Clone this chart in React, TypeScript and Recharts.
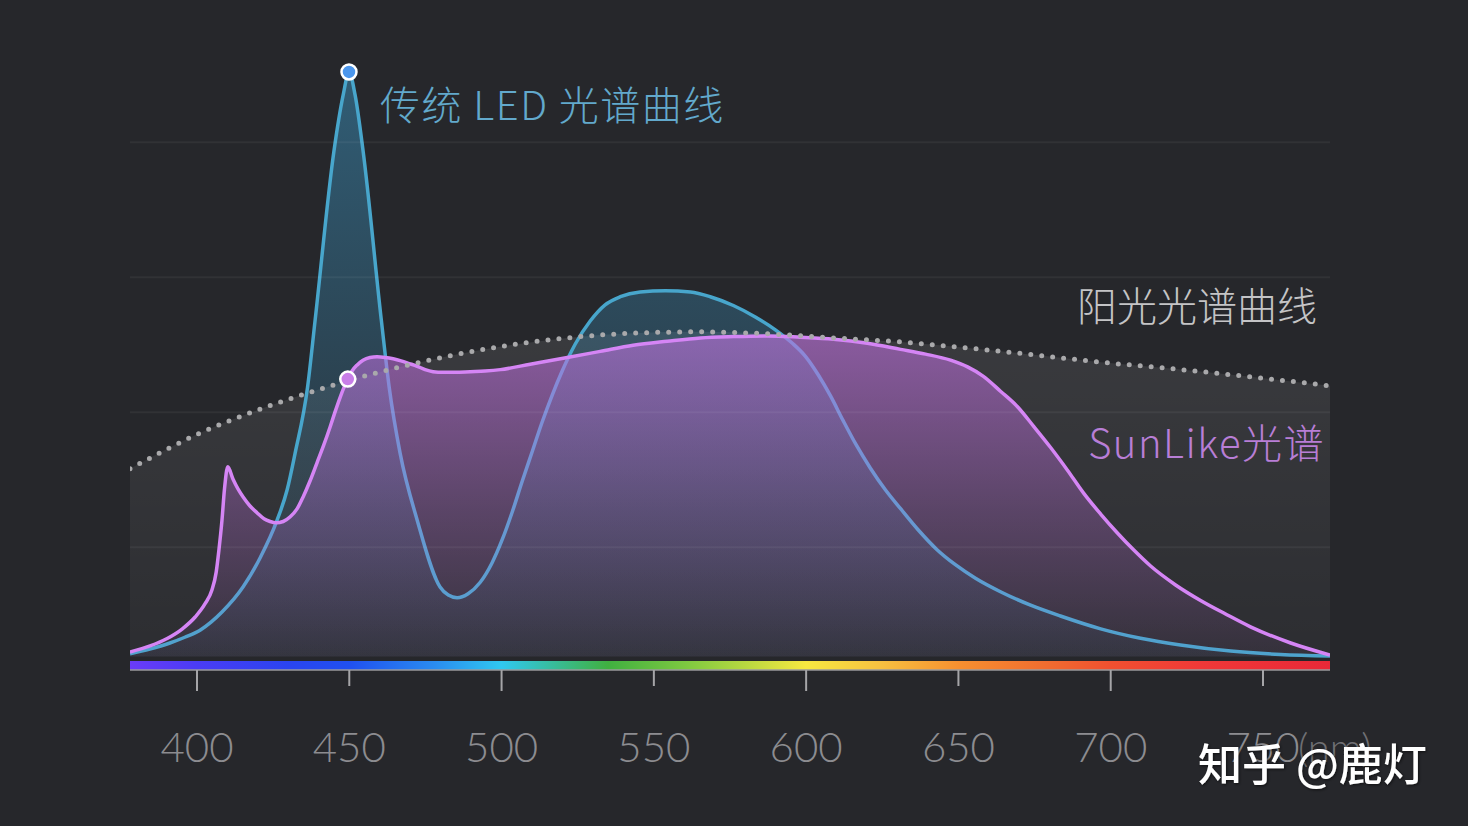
import { Area, ComposedChart, Line, ReferenceArea, ReferenceDot, ReferenceLine, XAxis, YAxis } from "recharts"

// wavelength (nm) / relative power
const ledNm = [378.0, 384.5, 391.1, 396.0, 401.0, 404.6, 408.2, 415.1, 420.7, 426.3, 429.6, 432.2, 436.3, 438.8, 445.0, 448.0, 449.9, 451.9, 454.5, 460.5, 463.1, 466.7, 472.3, 479.8, 482.5, 485.4, 489.0, 493.0, 496.9, 500.2, 503.5, 506.8, 510.1, 513.3, 516.6, 519.9, 524.2, 529.1, 534.0, 539.0, 545.5, 553.8, 562.0, 568.5, 576.1, 583.3, 589.9, 595.5, 599.7, 604.0, 608.0, 612.2, 616.5, 621.1, 626.0, 631.0, 636.9, 642.8, 649.0, 655.6, 663.8, 673.7, 683.5, 696.7, 709.8, 722.9, 739.4, 755.8, 772.0]
const ledPower = [0.4, 1.1, 2.0, 2.85, 3.9, 5.1, 6.6, 10.3, 14.6, 20.2, 24.7, 30.1, 39.9, 49.9, 75.0, 83.2, 86.6, 83.2, 75.0, 49.9, 39.9, 30.1, 20.2, 10.3, 9.1, 8.7, 9.3, 11.0, 13.9, 17.3, 21.4, 26.0, 30.4, 34.7, 38.7, 42.3, 46.3, 49.7, 52.1, 53.3, 54.0, 54.2, 54.0, 53.3, 52.0, 50.3, 48.4, 46.4, 44.5, 41.7, 38.6, 34.9, 31.3, 27.9, 24.7, 21.9, 18.7, 15.9, 13.6, 11.6, 9.6, 7.6, 6.0, 4.1, 2.7, 1.7, 0.8, 0.3, 0.07]

const sunLikeNm = [378.0, 384.6, 390.2, 395.1, 399.4, 402.6, 404.9, 406.3, 407.2, 408.2, 409.0, 410.1, 411.8, 413.5, 415.2, 417.4, 419.7, 422.0, 424.0, 426.0, 428.3, 430.6, 432.9, 434.8, 437.1, 439.4, 441.6, 443.7, 445.3, 447.0, 448.3, 449.5, 450.9, 452.6, 454.5, 456.8, 459.1, 461.8, 464.4, 467.0, 469.7, 472.3, 474.9, 477.5, 480.8, 484.8, 489.7, 494.6, 499.6, 509.4, 521.6, 532.4, 543.2, 554.4, 565.3, 576.1, 587.3, 598.1, 609.0, 620.1, 631.0, 639.2, 647.4, 653.0, 658.2, 663.8, 669.4, 674.7, 680.2, 685.8, 691.1, 696.7, 702.2, 707.5, 713.1, 721.3, 729.5, 737.7, 745.9, 759.1, 772.0]
const sunLikePower = [0.67, 1.56, 2.67, 4.07, 5.85, 7.78, 9.85, 12.5, 15.8, 20.2, 24.7, 28.1, 26.3, 24.8, 23.6, 22.3, 21.3, 20.4, 20.0, 19.8, 20.0, 20.7, 21.9, 23.6, 26.0, 28.7, 31.3, 34.0, 36.2, 38.4, 39.9, 41.1, 42.3, 43.2, 43.9, 44.3, 44.4, 44.3, 44.1, 43.8, 43.4, 43.0, 42.5, 42.2, 42.1, 42.1, 42.2, 42.3, 42.5, 43.3, 44.3, 45.2, 46.1, 46.7, 47.2, 47.4, 47.5, 47.3, 47.0, 46.4, 45.5, 44.8, 43.9, 42.9, 41.5, 39.3, 37.0, 34.1, 31.0, 27.6, 24.2, 21.1, 18.3, 15.8, 13.4, 10.6, 8.3, 6.3, 4.4, 2.0, 0.22]

const sunNm = [378.0, 401.0, 423.0, 444.7, 466.7, 499.5, 521.6, 543.2, 565.3, 587.3, 609.0, 631.0, 653.0, 674.7, 696.7, 718.7, 740.4, 772.0]
const sunPower = [27.8, 33.1, 37.0, 40.2, 42.9, 45.9, 47.2, 47.9, 48.1, 47.8, 47.2, 46.6, 45.7, 44.7, 43.6, 42.7, 41.7, 40.1]

const xTicks = [400, 450, 500, 550, 600, 650, 700, 750]
const gridLevels = [16.2, 36.2, 56.2, 76.2]
const markerNm = 450

// colour of the visible spectrum strip under the curves
const spectrumStops = [
  { nm: 378, color: "#6a3cf8" },
  { nm: 400, color: "#4a3cf5" },
  { nm: 430, color: "#2a44f0" },
  { nm: 450, color: "#2050f0" },
  { nm: 478, color: "#2a8cf0" },
  { nm: 500, color: "#30c8f0" },
  { nm: 535, color: "#40b040" },
  { nm: 560, color: "#7cc840" },
  { nm: 580, color: "#b8d840" },
  { nm: 600, color: "#f8e840" },
  { nm: 625, color: "#f8c040" },
  { nm: 650, color: "#f89030" },
  { nm: 676, color: "#f07030" },
  { nm: 700, color: "#f05030" },
  { nm: 730, color: "#f03838" },
  { nm: 772, color: "#e82838" },
]

const X_MIN = 378
const X_MAX = 772

const toRows = (nm: number[], power: number[]) => nm.map((x, i) => ({ nm: x, power: power[i] }))
const ledData = toRows(ledNm, ledPower)
const sunLikeData = toRows(sunLikeNm, sunLikePower)
const sunData = toRows(sunNm, sunPower)

const ledPeak = ledData.reduce((a, b) => (b.power > a.power ? b : a))
const sunLikeMarker = sunLikeData.reduce((a, b) => (Math.abs(b.nm - markerNm) < Math.abs(a.nm - markerNm) ? b : a))

const BG = "#26272b"
const LED = "#48a6cc"
const SUNLIKE = "#d585f5"

function WaveTick(props: any) {
  const { x, y, payload, index } = props
  const long = index % 2 === 0
  return (
    <g>
      <line x1={x} x2={x} y1={y} y2={y + (long ? 21 : 16)} stroke="#a5a5a8" strokeWidth={2} />
      <text x={x} y={y + 92} textAnchor="middle" fill="#8c8c90" fontSize={42} fontWeight={300} fontFamily="Lato, 'Open Sans', sans-serif">
        {payload.value}
      </text>
      {payload.value === 750 && (
        <text x={x + 35} y={y + 92} textAnchor="start" fill="#6f6f73" fontSize={40} fontWeight={300} fontFamily="Lato, 'Open Sans', sans-serif">
          (nm)
        </text>
      )}
    </g>
  )
}

export default function App() {
  const cjk = "'Noto Sans CJK SC', 'Noto Sans', sans-serif"
  return (
    <div style={{ position: "fixed", left: 0, top: 0, width: 1468, height: 826, background: BG, overflow: "hidden" }}>
      <ComposedChart width={1468} height={826} margin={{ top: 22, right: 138, bottom: 0, left: 130 }}>
        <defs>
          <linearGradient id="spectrum" x1="0" y1="0" x2="1" y2="0">
            {spectrumStops.map((s) => (
              <stop key={s.nm} offset={`${((s.nm - X_MIN) / (X_MAX - X_MIN)) * 100}%`} stopColor={s.color} />
            ))}
          </linearGradient>
          <linearGradient id="sunFill" x1="0" y1="0" x2="0" y2="1">
            <stop offset="0%" stopColor="#ffffff" stopOpacity={0.09} />
            <stop offset="100%" stopColor="#ffffff" stopOpacity={0.03} />
          </linearGradient>
          <linearGradient id="ledFill" x1="0" y1="0" x2="0" y2="1">
            <stop offset="0%" stopColor="#3d9fd0" stopOpacity={0.45} />
            <stop offset="100%" stopColor="#3d9fd0" stopOpacity={0.04} />
          </linearGradient>
          <linearGradient id="sunLikeFill" x1="0" y1="0" x2="0" y2="1">
            <stop offset="0%" stopColor="#c070e0" stopOpacity={0.6} />
            <stop offset="55%" stopColor="#c070e0" stopOpacity={0.28} />
            <stop offset="100%" stopColor="#c070e0" stopOpacity={0.05} />
          </linearGradient>
          <filter id="shadow" x="-10%" y="-30%" width="120%" height="160%">
            <feDropShadow dx="1" dy="1" stdDeviation="1.5" floodColor="#000" floodOpacity={0.6} />
          </filter>
        </defs>

        <XAxis
          dataKey="nm"
          type="number"
          domain={[X_MIN, X_MAX]}
          ticks={xTicks}
          height={156}
          tickSize={0}
          tickMargin={0}
          axisLine={{ stroke: "#9a9a9d", strokeWidth: 1.5 }}
          tickLine={false}
          tick={<WaveTick />}
          allowDataOverflow
        />
        <YAxis type="number" domain={[-2, 94]} hide width={0} allowDataOverflow />

        <Area data={sunData} dataKey="power" type="monotone" stroke="none" fill="url(#sunFill)" fillOpacity={1} dot={false} activeDot={false} isAnimationActive={false} />
        <Area data={ledData} dataKey="power" type="monotone" stroke={LED} strokeWidth={3.5} fill="url(#ledFill)" fillOpacity={1} dot={false} activeDot={false} isAnimationActive={false} />
        <Area data={sunLikeData} dataKey="power" type="monotone" stroke={SUNLIKE} strokeWidth={3.5} fill="url(#sunLikeFill)" fillOpacity={1} dot={false} activeDot={false} isAnimationActive={false} />
        <Line data={sunData} dataKey="power" type="monotone" stroke="#a9a9ab" strokeWidth={5} strokeDasharray="0 11" strokeLinecap="round" dot={false} activeDot={false} isAnimationActive={false} />

        {gridLevels.map((v) => (
          <ReferenceLine key={v} y={v} stroke="#ffffff" strokeOpacity={0.05} strokeWidth={2} />
        ))}

        <ReferenceArea x1={X_MIN} x2={X_MAX} y1={-2} y2={-0.67} fill="url(#spectrum)" fillOpacity={1} stroke="none" ifOverflow="visible" />

        <ReferenceDot x={ledPeak.nm} y={ledPeak.power} r={7.5} fill="#4b96ec" stroke="#ffffff" strokeWidth={2.5} />
        <ReferenceDot x={sunLikeMarker.nm} y={sunLikeMarker.power} r={7.5} fill="#c87ee8" stroke="#ffffff" strokeWidth={2.5} />
      </ComposedChart>

      <svg width={1468} height={826} style={{ position: "absolute", left: 0, top: 0, pointerEvents: "none" }}>
        <text x={380} y={120} fill="#62a9cc" fontSize={40} fontWeight={300} letterSpacing={1.5} fontFamily={cjk}>
          传统 LED 光谱曲线
        </text>
        <text x={1317} y={321} textAnchor="end" fill="#c4c4c6" fontSize={40} fontWeight={300} fontFamily={cjk}>
          阳光光谱曲线
        </text>
        <text x={1325} y={458} textAnchor="end" fill="#b87ed6" fontSize={40} fontWeight={300} letterSpacing={1.5} fontFamily={cjk}>
          SunLike光谱
        </text>
        <text x={1198} y={781} fill="#ffffff" fontSize={44} fontWeight={500} fontFamily={cjk} filter="url(#shadow)">
          知乎 @鹿灯
        </text>
      </svg>
    </div>
  )
}
